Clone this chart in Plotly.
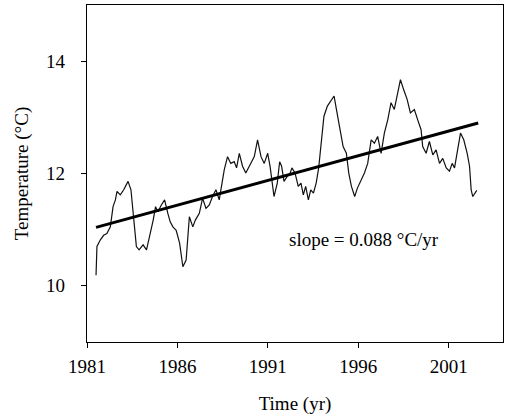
import plotly.graph_objects as go

# Monthly-mean temperature record (year, °C)
years = [
    1981.50, 1981.55, 1981.74, 1981.92, 1982.10, 1982.29, 1982.44, 1982.57, 1982.66, 1982.84,
    1983.03, 1983.27, 1983.43, 1983.58, 1983.73, 1983.88, 1984.10, 1984.29, 1984.47, 1984.66,
    1984.79, 1984.92, 1985.11, 1985.29, 1985.47, 1985.60, 1985.75, 1985.93, 1986.12, 1986.30,
    1986.48, 1986.57, 1986.66, 1986.85, 1986.99, 1987.21, 1987.39, 1987.58, 1987.76, 1987.94,
    1988.13, 1988.31, 1988.40, 1988.59, 1988.77, 1988.95, 1989.14, 1989.27, 1989.42, 1989.60,
    1989.78, 1989.97, 1990.25, 1990.43, 1990.62, 1990.80, 1990.99, 1991.12, 1991.23, 1991.34,
    1991.52, 1991.65, 1991.76, 1991.89, 1992.07, 1992.20, 1992.33, 1992.50, 1992.68, 1992.83,
    1992.96, 1993.09, 1993.24, 1993.37, 1993.52, 1993.67, 1993.81, 1993.96, 1994.10, 1994.29,
    1994.47, 1994.66, 1994.79, 1994.97, 1995.16, 1995.34, 1995.47, 1995.62, 1995.80, 1995.95,
    1996.13, 1996.34, 1996.52, 1996.71, 1996.89, 1997.07, 1997.26, 1997.44, 1997.63, 1997.81,
    1997.99, 1998.18, 1998.33, 1998.51, 1998.70, 1998.88, 1999.10, 1999.28, 1999.47, 1999.56,
    1999.75, 1999.93, 2000.12, 2000.30, 2000.49, 2000.67, 2000.86, 2001.04, 2001.19, 2001.32,
    2001.50, 2001.65, 2001.83, 2002.02, 2002.15, 2002.24, 2002.33, 2002.55,
]
temps = [
    10.19, 10.70, 10.82, 10.90, 10.93, 11.05, 11.41, 11.53, 11.68, 11.62,
    11.71, 11.86, 11.71, 11.23, 10.70, 10.64, 10.73, 10.64, 10.88, 11.17,
    11.41, 11.32, 11.44, 11.53, 11.29, 11.14, 11.05, 10.99, 10.76, 10.34,
    10.46, 10.93, 11.23, 11.05, 11.17, 11.29, 11.56, 11.38, 11.44, 11.59,
    11.71, 11.53, 11.71, 12.07, 12.30, 12.18, 12.21, 12.10, 12.36, 12.13,
    12.01, 12.13, 12.30, 12.60, 12.30, 12.18, 12.36, 12.13, 11.89, 11.59,
    11.83, 12.21, 12.13, 11.86, 11.95, 11.98, 12.10, 12.01, 11.77, 11.83,
    11.62, 11.77, 11.53, 11.71, 11.65, 11.83, 12.10, 12.54, 13.02, 13.20,
    13.29, 13.38, 13.14, 12.84, 12.48, 12.36, 12.01, 11.77, 11.59, 11.74,
    11.86, 12.01, 12.18, 12.60, 12.54, 12.66, 12.36, 12.72, 12.96, 13.26,
    13.14, 13.43, 13.67, 13.49, 13.32, 13.08, 13.14, 12.96, 12.78, 12.48,
    12.36, 12.57, 12.33, 12.42, 12.18, 12.27, 12.10, 12.04, 12.18, 12.10,
    12.45, 12.72, 12.60, 12.36, 12.13, 11.71, 11.59, 11.70,
]

# Linear trend
trend_start = 1981.5
trend_end = 2002.63
trend_intercept = 11.04   # °C at trend_start
trend_slope = 0.088       # °C per year
trend_x = [trend_start, trend_end]
trend_y = [trend_intercept + trend_slope * (x - trend_start) for x in trend_x]

x_ticks = [1981, 1986, 1991, 1996, 2001]
y_ticks = [10, 12, 14]

serif = "Liberation Serif, Times New Roman, serif"

fig = go.Figure()
fig.add_trace(go.Scatter(
    x=years, y=temps, mode="lines",
    line=dict(color="#111111", width=1.2),
    showlegend=False, hoverinfo="skip",
))
fig.add_trace(go.Scatter(
    x=trend_x, y=trend_y, mode="lines",
    line=dict(color="#000000", width=3),
    showlegend=False, hoverinfo="skip",
))

fig.add_annotation(
    x=1996.3, y=10.82, xref="x", yref="y",
    text=f"slope = {trend_slope:.3f} °C/yr",
    showarrow=False,
    font=dict(family=serif, size=19, color="#000000"),
)

axis_common = dict(
    showgrid=False, zeroline=False,
    showline=True, linecolor="#000000", linewidth=1.3, mirror=True,
    ticks="outside", ticklen=5, tickwidth=1, tickcolor="#000000",
    tickfont=dict(family=serif, size=19, color="#000000"),
)

fig.update_xaxes(
    range=[1981, 2004], tickvals=x_ticks, ticktext=[str(v) for v in x_ticks],
    title=dict(text="Time (yr)", font=dict(family=serif, size=19, color="#000000"), standoff=20),
    ticklabelstandoff=2,
    **axis_common,
)
fig.update_yaxes(
    range=[9, 15], tickvals=y_ticks, ticktext=[str(v) for v in y_ticks],
    title=dict(text="Temperature (°C)", font=dict(family=serif, size=19, color="#000000"), standoff=12),
    ticklabelstandoff=12,
    **axis_common,
)

fig.update_layout(
    width=505, height=419,
    margin=dict(l=87, r=2, t=5, b=77),
    paper_bgcolor="#ffffff", plot_bgcolor="#ffffff",
    font=dict(family=serif, color="#000000"),
)

fig.write_html("out.html")
